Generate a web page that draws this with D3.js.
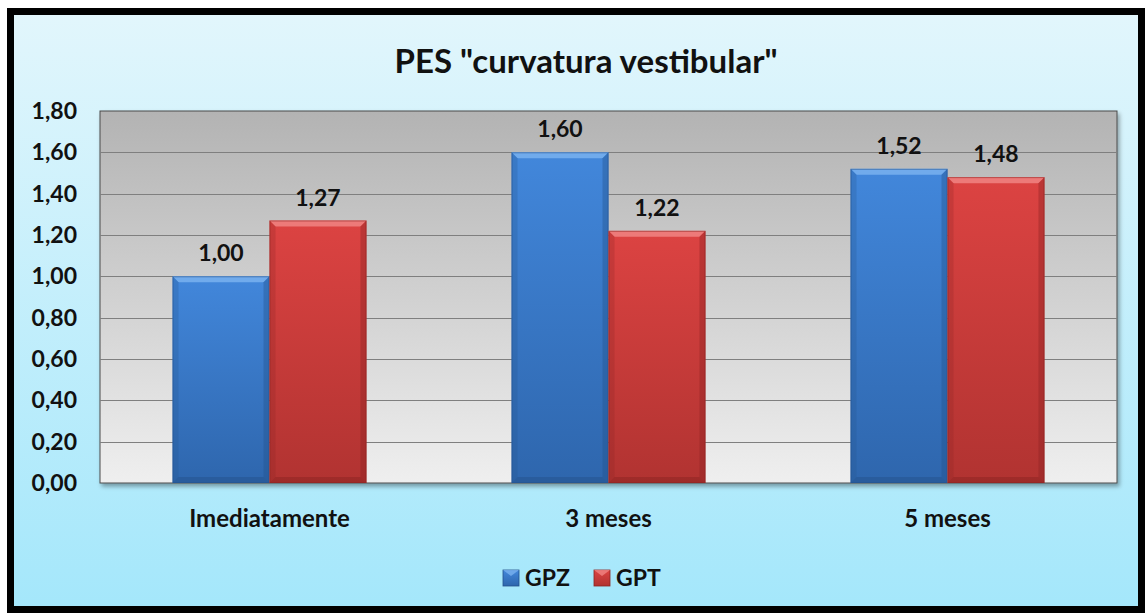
<!DOCTYPE html>
<html>
<head>
<meta charset="utf-8">
<script src="https://cdn.jsdelivr.net/npm/d3@7"></script>
<style>
  body { margin: 0; background: #fff; }
  text { font-family: Lato, "Open Sans", sans-serif; font-weight: bold; fill: #111; }
</style>
</head>
<body>
<script>
// Chart data
var categories = ["Imediatamente", "3 meses", "5 meses"];
var seriesNames = ["GPZ", "GPT"];
var gpzValues = [1.00, 1.60, 1.52];
var gptValues = [1.27, 1.22, 1.48];
var yTicks = [0, 0.2, 0.4, 0.6, 0.8, 1.0, 1.2, 1.4, 1.6, 1.8];

var width = 1146, height = 615;
var svg = d3.select("body").append("svg")
    .attr("width", width)
    .attr("height", height);

var defs = svg.append("defs");

// Chart background gradient (light cyan)
var bg = defs.append("linearGradient").attr("id", "bg")
    .attr("x1", 0).attr("y1", 0).attr("x2", 0).attr("y2", 1);
bg.append("stop").attr("offset", "0%").attr("stop-color", "#e2f6fc");
bg.append("stop").attr("offset", "100%").attr("stop-color", "#a4e7fb");

// Plot area gradient (gray)
var pg = defs.append("linearGradient").attr("id", "plotbg")
    .attr("x1", 0).attr("y1", 0).attr("x2", 0).attr("y2", 1);
pg.append("stop").attr("offset", "0%").attr("stop-color", "#b3b3b3");
pg.append("stop").attr("offset", "100%").attr("stop-color", "#efefef");

var shadow = defs.append("filter").attr("id", "shadow")
    .attr("x", "-5%").attr("y", "-5%").attr("width", "115%").attr("height", "115%");
shadow.append("feDropShadow").attr("dx", 2).attr("dy", 3).attr("stdDeviation", 2)
    .attr("flood-color", "#000").attr("flood-opacity", 0.35);

// Bar gradients
var barColors = [
    { id: "blue", top: "#4287db", bottom: "#2e66ad", light: "#79b2ef", dark: "#24528c" },
    { id: "red", top: "#dc4342", bottom: "#b13331", light: "#f08483", dark: "#8c2422" }
];
barColors.forEach(function(c) {
    var g = defs.append("linearGradient").attr("id", "grad-" + c.id)
        .attr("x1", 0).attr("y1", 0).attr("x2", 0).attr("y2", 1);
    g.append("stop").attr("offset", "0%").attr("stop-color", c.top);
    g.append("stop").attr("offset", "100%").attr("stop-color", c.bottom);
});

// Outer frame
svg.append("rect")
    .attr("x", 10.5).attr("y", 11.5)
    .attr("width", 1131).attr("height", 598)
    .attr("fill", "url(#bg)")
    .attr("stroke", "#000")
    .attr("stroke-width", 7);

// Title
svg.append("text")
    .attr("x", 586).attr("y", 73)
    .attr("text-anchor", "middle")
    .style("font-size", "33px")
    .text('PES "curvatura vestibular"');

var margin = { left: 100, top: 111, right: 1117, bottom: 483 };

var x0 = d3.scaleBand()
    .domain(categories)
    .range([margin.left, margin.right])
    .paddingInner(0.428)
    .paddingOuter(0.214);

var x1 = d3.scaleBand()
    .domain(seriesNames)
    .range([0, x0.bandwidth()]);

var y = d3.scaleLinear()
    .domain([0, 1.8])
    .range([margin.bottom, margin.top]);

// Plot area
svg.append("rect")
    .attr("x", margin.left).attr("y", margin.top)
    .attr("width", margin.right - margin.left)
    .attr("height", margin.bottom - margin.top)
    .attr("fill", "url(#plotbg)")
    .attr("stroke", "#4a4a4a")
    .attr("stroke-width", 1)
    .attr("filter", "url(#shadow)");

// Gridlines
svg.append("g")
    .selectAll("line")
    .data(yTicks.slice(1, -1))
    .enter().append("line")
    .attr("x1", margin.left).attr("x2", margin.right)
    .attr("y1", function(d) { return Math.round(y(d)) + 0.5; })
    .attr("y2", function(d) { return Math.round(y(d)) + 0.5; })
    .attr("stroke", "#7f7f7f")
    .attr("stroke-width", 1);

// Y axis labels
var fmt = function(d) { return d3.format(".2f")(d).replace(".", ","); };
svg.append("g")
    .selectAll("text")
    .data(yTicks)
    .enter().append("text")
    .attr("x", 77)
    .attr("y", function(d) { return y(d) + 8; })
    .attr("text-anchor", "end")
    .style("font-size", "23px")
    .text(fmt);

// Bars
var rows = [];
categories.forEach(function(cat, i) {
    rows.push({ cat: cat, series: "GPZ", value: gpzValues[i], color: barColors[0] });
    rows.push({ cat: cat, series: "GPT", value: gptValues[i], color: barColors[1] });
});

var bev = 6;
var bars = svg.append("g").selectAll("g.bar")
    .data(rows)
    .enter().append("g")
    .attr("class", "bar");

bars.each(function(d) {
    var g = d3.select(this);
    var bx = x0(d.cat) + x1(d.series);
    var bw = x1.bandwidth();
    var by = y(d.value);
    var bh = y(0) - by;
    g.append("rect")
        .attr("x", bx).attr("y", by)
        .attr("width", bw).attr("height", bh)
        .attr("fill", "url(#grad-" + d.color.id + ")");
    // top bevel
    g.append("path")
        .attr("d", "M" + bx + "," + by + "L" + (bx + bw) + "," + by +
            "L" + (bx + bw - bev) + "," + (by + bev) + "L" + (bx + bev) + "," + (by + bev) + "Z")
        .attr("fill", d.color.light).attr("opacity", 0.85);
    // left bevel
    g.append("path")
        .attr("d", "M" + bx + "," + by + "L" + (bx + bev) + "," + (by + bev) +
            "L" + (bx + bev) + "," + (by + bh - bev) + "L" + bx + "," + (by + bh) + "Z")
        .attr("fill", d.color.dark).attr("opacity", 0.25);
    // right bevel
    g.append("path")
        .attr("d", "M" + (bx + bw) + "," + by + "L" + (bx + bw - bev) + "," + (by + bev) +
            "L" + (bx + bw - bev) + "," + (by + bh - bev) + "L" + (bx + bw) + "," + (by + bh) + "Z")
        .attr("fill", d.color.dark).attr("opacity", 0.4);
    // bottom bevel
    g.append("path")
        .attr("d", "M" + bx + "," + (by + bh) + "L" + (bx + bev) + "," + (by + bh - bev) +
            "L" + (bx + bw - bev) + "," + (by + bh - bev) + "L" + (bx + bw) + "," + (by + bh) + "Z")
        .attr("fill", d.color.dark).attr("opacity", 0.5);
    g.append("rect")
        .attr("x", bx + 0.5).attr("y", by + 0.5)
        .attr("width", bw - 1).attr("height", bh - 1)
        .attr("fill", "none")
        .attr("stroke", d.color.dark).attr("stroke-opacity", 0.5);
    // value label
    g.append("text")
        .attr("x", bx + bw / 2)
        .attr("y", by - 15)
        .attr("text-anchor", "middle")
        .style("font-size", "23px")
        .text(fmt(d.value));
});

// Category labels
svg.append("g")
    .selectAll("text")
    .data(categories)
    .enter().append("text")
    .attr("x", function(d) { return x0(d) + x0.bandwidth() / 2; })
    .attr("y", 527)
    .attr("text-anchor", "middle")
    .style("font-size", "24px")
    .text(function(d) { return d; });

// Legend
var legendX = [503, 594];
var legend = svg.append("g").selectAll("g")
    .data(seriesNames)
    .enter().append("g")
    .attr("transform", function(d, i) { return "translate(" + legendX[i] + ",570)"; });
legend.append("rect")
    .attr("width", 16).attr("height", 16)
    .attr("fill", function(d, i) { return "url(#grad-" + barColors[i].id + ")"; })
    .attr("stroke", function(d, i) { return barColors[i].dark; })
    .attr("stroke-width", 0.8);
legend.append("path")
    .attr("d", "M0,0L16,0L8,6Z")
    .attr("fill", function(d, i) { return barColors[i].light; })
    .attr("opacity", 0.8);
legend.append("text")
    .attr("x", 22).attr("y", 16)
    .style("font-size", "23px")
    .text(function(d) { return d; });
</script>
</body>
</html>
